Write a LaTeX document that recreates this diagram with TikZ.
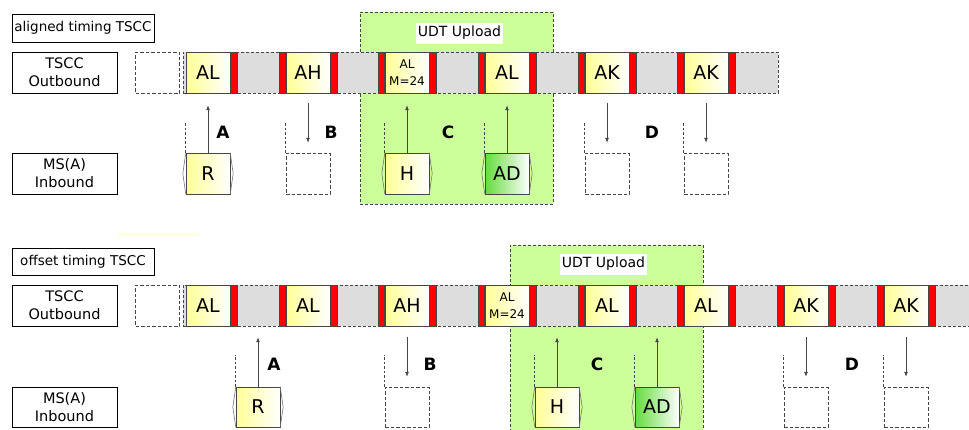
\documentclass[tikz,border=0pt]{standalone}
\usepackage{fontspec}
\setmainfont{DejaVu Sans}
\usepackage{tikz}
\usetikzlibrary{arrows.meta,positioning}
\definecolor{StripGray}{RGB}{221,221,221}
\definecolor{UploadGreen}{RGB}{204,255,153}
\definecolor{SlotYellow}{RGB}{255,255,150}
\definecolor{AckGreen}{RGB}{100,220,60}
\definecolor{EdgeGray}{RGB}{70,70,70}
\definecolor{FaintYellow}{RGB}{255,255,225}

\begin{document}
\begin{tikzpicture}[x=1pt, y=-1pt,
 rowname/.style={draw, minimum width=105pt, minimum height=41pt, inner sep=0pt, align=center, font=\fontsize{14.5}{18}\selectfont},
 headbox/.style={draw, minimum width=142pt, minimum height=28pt, inner sep=0pt, font=\fontsize{13.5}{15}\selectfont},
 strip/.style={draw=EdgeGray, dash pattern=on 3pt off 2pt, fill=StripGray, minimum height=41pt, inner sep=0pt},
 upload/.style={draw=EdgeGray, dash pattern=on 3pt off 2pt, fill=UploadGreen, inner sep=0pt},
 udt/.style={fill=white, minimum width=87pt, minimum height=21pt, inner sep=0pt, font=\fontsize{14}{16}\selectfont},
 slot/.style={draw=EdgeGray, left color=SlotYellow, right color=white, minimum width=44pt, minimum height=41pt, inner sep=0pt, align=center, font=\fontsize{19}{22}\selectfont},
 twoline/.style={font=\fontsize{12}{16.5}\selectfont},
 guard/.style={draw=EdgeGray, fill=red, minimum width=6.5pt, minimum height=41pt, inner sep=0pt},
 burst/.style={draw=EdgeGray, left color=SlotYellow, right color=white, minimum width=44pt, minimum height=41pt, inner sep=0pt, font=\fontsize{19}{22}\selectfont},
 ackburst/.style={burst, left color=AckGreen},
 idle/.style={draw=EdgeGray, dash pattern=on 3.5pt off 2pt, minimum width=44pt, minimum height=41pt, inner sep=0pt},
 brk/.style={draw=black!55, line width=0.6pt},
 tick/.style={draw=EdgeGray, dash pattern=on 2.5pt off 2pt, line width=0.7pt},
 sig/.style={-{Latex[length=5pt,width=4pt]}, draw=EdgeGray, line width=0.8pt},
 tag/.style={font=\fontsize{17}{20}\selectfont\bfseries}
]
\useasboundingbox (0,0) rectangle (969,429);
\clip (0,0) rectangle (969,429);

% aligned timing
\node[upload, minimum width=193pt, minimum height=192pt] (upa) at (456.5,108) {};
\node[udt] (udta) at (459.5,33) {UDT Upload};
\node[headbox] (hda) at (83,28) {aligned timing TSCC};
\node[rowname] (outna) at (64.5,72.5) {TSCC\\Outbound};
\node[rowname] (inna) at (64.5,173.5) {MS(A)\\Inbound};
\node[idle] (pada) at (157.5,72.5) {};
\node[strip, minimum width=595pt] (outa) at (480.5,72.5) {};

\node[slot] (a1) at (208,72.5) {AL};
\node[slot] (a2) at (308,72.5) {AH};
\node[slot, twoline] (a3) at (407,72.5) {AL\\M=24};
\node[slot] (a4) at (507,72.5) {AL};
\node[slot] (a5) at (607,72.5) {AK};
\node[slot] (a6) at (706,72.5) {AK};
\foreach \s in {a2,a3,a4,a5,a6}
  \node[guard, left=0pt of \s] {};
\foreach \s in {a1,a2,a3,a4,a5,a6}
  \node[guard, right=0pt of \s] {};

\node[burst] (ra) at (208,173.5) {R};
\node[idle] (ba) at (308,173.5) {};
\node[burst] (ha) at (407,173.5) {H};
\node[ackburst] (ada) at (507,173.5) {AD};
\node[idle] (da) at (607,173.5) {};
\node[idle] (ea) at (706,173.5) {};

\node[tag] (la) at (223,132) {A};
\node[tag] (lb) at (331,132) {B};
\node[tag] (lc) at (448,132) {C};
\node[tag] (ld) at (652,132) {D};

\draw[sig, shorten >=12pt] (ra.north) -- (ra.north |- a1.south);
\draw[sig, shorten <=10pt, shorten >=10pt] (a2.south) -- (ba.north);
\draw[sig, shorten >=12pt] (ha.north) -- (ha.north |- a3.south);
\draw[sig, shorten >=12pt] (ada.north) -- (ada.north |- a4.south);
\draw[sig, shorten <=10pt, shorten >=10pt] (a5.south) -- (da.north);
\draw[sig, shorten <=10pt, shorten >=10pt] (a6.south) -- (ea.north);

% offset timing
\fill[FaintYellow] (117,233) rectangle (198,235.5);
\node[upload, minimum width=193pt, minimum height=195pt] (upb) at (606.5,342.5) {};
\node[udt] (udtb) at (603.5,264) {UDT Upload};
\node[headbox, minimum height=27pt] (hdb) at (83,261.5) {offset timing TSCC};
\node[rowname] (outnb) at (64.5,305.5) {TSCC\\Outbound};
\node[rowname, minimum height=40pt] (innb) at (64.5,407) {MS(A)\\Inbound};
\node[idle] (padb) at (157.5,305.5) {};
\node[strip, minimum width=792pt] (outb) at (579,305.5) {};

\node[slot] (b1) at (208,305.5) {AL};
\node[slot] (b2) at (308,305.5) {AL};
\node[slot] (b3) at (407,305.5) {AH};
\node[slot, twoline] (b4) at (507,305.5) {AL\\M=24};
\node[slot] (b5) at (607,305.5) {AL};
\node[slot] (b6) at (706,305.5) {AL};
\node[slot] (b7) at (806,305.5) {AK};
\node[slot] (b8) at (906,305.5) {AK};
\foreach \s in {b2,b3,b4,b5,b6,b7,b8}
  \node[guard, left=0pt of \s] {};
\foreach \s in {b1,b2,b3,b4,b5,b6,b7,b8}
  \node[guard, right=0pt of \s] {};

\node[burst, minimum height=40pt] (rb) at (258,407) {R};
\node[idle, minimum height=40pt] (bb) at (407,407) {};
\node[burst, minimum height=40pt] (hb) at (557,407) {H};
\node[ackburst, minimum height=40pt] (adb) at (657,407) {AD};
\node[idle, minimum height=40pt] (db) at (806,407) {};
\node[idle, minimum height=40pt] (eb) at (906,407) {};

\node[tag] (ma) at (274,364) {A};
\node[tag] (mb) at (430,364) {B};
\node[tag] (mc) at (597,364) {C};
\node[tag] (md) at (852,364) {D};

\draw[sig, shorten >=11pt] (rb.north) -- (rb.north |- outb.south);
\draw[sig, shorten <=11pt, shorten >=10pt] (b3.south) -- (bb.north);
\draw[sig, shorten >=11pt] (hb.north) -- (hb.north |- outb.south);
\draw[sig, shorten >=11pt] (adb.north) -- (adb.north |- outb.south);
\draw[sig, shorten <=11pt, shorten >=10pt] (b7.south) -- (db.north);
\draw[sig, shorten <=11pt, shorten >=10pt] (b8.south) -- (eb.north);

% side marks of the bursts and dashed leads
\foreach \n in {ra,ha,ada,rb,hb,adb}
  \draw[brk] (\n.north west) -- ([xshift=-3pt]\n.west) -- (\n.south west)
             (\n.north east) -- ([xshift=3pt]\n.east) -- (\n.south east);
\foreach \n in {ra,ba,ha,ada,da,ea}
  \draw[tick] (\n.north west) -- ++(0,-30);
\foreach \n in {rb,bb,hb,adb,db,eb}
  \draw[tick] (\n.north west) -- ++(0,-32);
\end{tikzpicture}
\end{document}
